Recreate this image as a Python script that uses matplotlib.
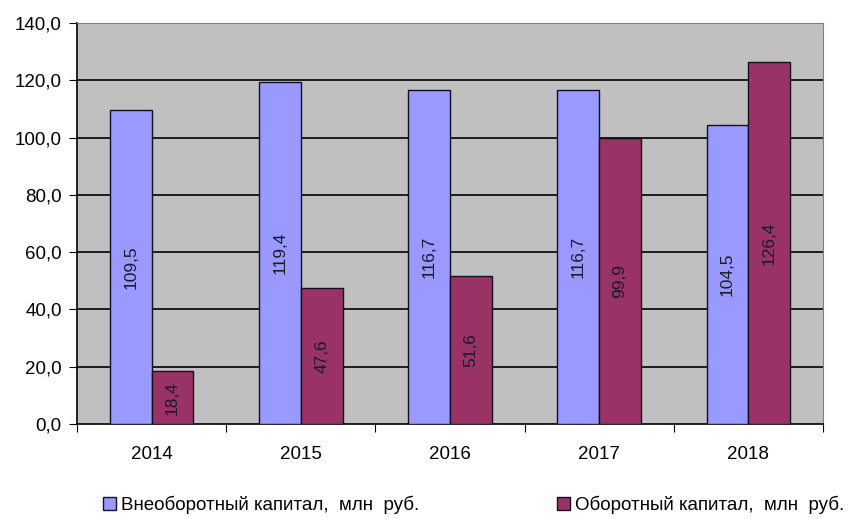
import matplotlib.pyplot as plt
import numpy as np

plt.rcParams['font.family'] = ['Liberation Sans', 'DejaVu Sans']

years = ['2014', '2015', '2016', '2017', '2018']
non_current = [109.5, 119.4, 116.7, 116.7, 104.5]
current = [18.4, 47.6, 51.6, 99.9, 126.4]
labels = ['Внеоборотный капитал,  млн  руб.', 'Оборотный капитал,  млн  руб.']

def fmt(v):
    return f'{v:.1f}'.replace('.', ',')

fig = plt.figure(figsize=(8.48, 5.19), dpi=100)
ax = fig.add_axes([77/848, 1 - 424/519, 746/848, 401/519])
ax.set_facecolor('#c0c0c0')

x = np.arange(len(years))
w = 0.28
b1 = ax.bar(x - w/2, non_current, w, color='#9999ff', edgecolor='#101020', linewidth=1, zorder=3)
b2 = ax.bar(x + w/2, current, w, color='#993366', edgecolor='#101020', linewidth=1, zorder=3)

# value labels, rotated, in the middle of each bar
for bars, vals in ((b1, non_current), (b2, current)):
    for r, v in zip(bars, vals):
        ax.text(r.get_x() + r.get_width()/2, v/2, fmt(v), rotation=90,
                ha='center', va='center', fontsize=12.5, color='#1a1a2a', zorder=4)

ax.set_xlim(-0.5, len(years) - 0.5)
ax.set_ylim(0, 140)
yt = np.arange(0, 141, 20)
ax.set_yticks(yt)
ax.set_yticklabels([fmt(v) for v in yt], fontsize=13.5)
for v in yt[1:-1]:
    ax.axhline(v, color='black', linewidth=1.2, zorder=1)

# tick marks between categories, labels at the centres
ax.set_xticks(np.arange(-0.5, len(years), 1))
ax.set_xticklabels([])
ax.set_xticks(x, minor=True)
ax.set_xticklabels(years, minor=True, fontsize=13.5)
ax.tick_params(axis='x', which='minor', length=0, pad=16)
ax.tick_params(axis='x', which='major', length=6, direction='out', color='black')
ax.tick_params(axis='y', length=6, direction='out', pad=5)

for s in ('top', 'right'):
    ax.spines[s].set_color('#808080')
for s in ('left', 'bottom'):
    ax.spines[s].set_color('black')
    ax.spines[s].set_linewidth(1.2)

for handle, text, x0 in ((b1, labels[0], 103), (b2, labels[1], 557)):
    fig.legend([handle], [text], loc='center left', bbox_to_anchor=(x0/848, 1 - 505/519),
               frameon=False, fontsize=13.5, handlelength=0.7, handleheight=0.7,
               handletextpad=0.25, borderaxespad=0, borderpad=0)

fig.savefig('out.png', dpi=100)
